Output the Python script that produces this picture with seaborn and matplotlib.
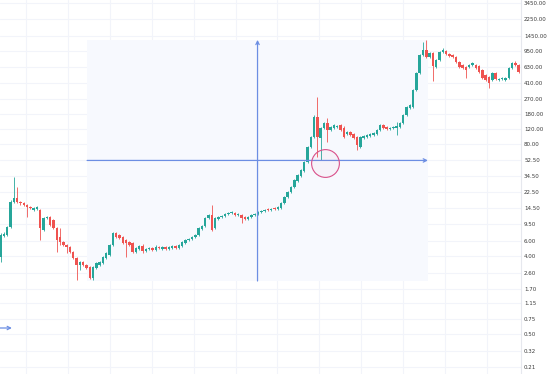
"""
plot.py

Gráfico de velas (escala logarítmica) con herramienta de rango de fechas/precio.
"""

import matplotlib
matplotlib.use("Agg")
import matplotlib.pyplot as plt
from matplotlib.ticker import NullLocator
import numpy as np
import pandas as pd
import seaborn as sns

# =========================
# Datos (velas)
# =========================

opens = [
    3.94, 6.91, 7.10, 8.79, 17.1, 19.0, 17.1, 16.6, 15.8, 15.0,
    13.8, 14.2, 13.8, 8.11, 11.15, 11.45, 10.6, 8.56, 6.73, 5.89,
    5.44, 5.15, 4.51, 3.84, 3.19, 3.45, 3.19, 3.02, 2.25, 2.94,
    3.19, 3.36, 3.84, 4.16, 5.44, 7.49, 7.10, 6.73, 6.21, 5.89,
    5.73, 4.51,
    4.89, 5.29, 4.63, 4.89, 5.02, 4.76, 5.15, 4.89, 5.15, 4.89,
    5.02, 5.29, 5.02, 5.29, 5.73, 6.21, 6.38, 6.73, 7.10, 8.33,
    9.03, 11.15, 12.1, 8.56, 10.9, 11.45, 11.8, 12.4, 12.75, 12.75,
    12.1, 12.1, 11.45, 10.9, 11.45, 12.1, 12.4, 13.1,
    13.45, 14.2, 13.8, 14.6, 14.2, 14.6, 16.6, 19.5, 22.4, 25.5,
    30.0, 34.3, 39.1, 49.7, 74.1, 96.9, 165, 94.3, 123, 140,
    117, 123, 126,
    133, 123, 105, 110.9, 105, 96.9, 74.1, 94.3, 96.9, 99.5,
    102, 105, 117, 133, 126, 120, 123, 123, 126, 140,
    174, 210, 215, 339, 533, 862, 985, 817, 909,
    626, 754, 934, 959, 885, 862, 817, 715, 660, 626,
    626, 660, 660, 643, 578, 506, 479, 443, 533, 443,
    455, 443, 467, 609, 696, 660,
]

closes = [
    7.10, 7.29, 8.79, 17.1, 19.0, 17.1, 16.6, 15.8, 15.0, 14.6,
    14.6, 15.0, 8.56, 11.15, 11.45, 9.27, 8.56, 6.21, 5.89, 5.44,
    5.15, 4.51, 3.84, 3.19, 3.45, 3.19, 2.94, 2.25, 3.02, 3.36,
    3.45, 3.94, 4.39, 5.44, 7.49, 6.73, 6.55, 5.73, 5.73, 5.44,
    4.51, 5.02,
    5.29, 4.63, 4.89, 5.02, 4.76, 5.15, 5.02, 5.15, 4.89, 5.15,
    5.29, 5.02, 5.44, 5.89, 6.21, 6.38, 6.73, 7.10, 8.56, 9.03,
    11.15, 12.1, 8.11, 11.15, 11.45, 11.8, 12.4, 12.75, 13.1, 12.1,
    12.4, 11.15, 10.9, 11.45, 12.1, 12.4, 13.1, 13.45,
    13.8, 13.8, 14.2, 14.2, 15.0, 16.6, 19.5, 22.4, 25.5, 30.8,
    35.2, 40.2, 49.7, 74.1, 96.9, 165, 96.9, 123, 140, 117,
    126, 133, 129.5,
    117, 96.9, 110.9, 102, 94.3, 78.2, 96.9, 99.5, 102, 105,
    108, 117, 133, 123, 120, 123, 126, 129.5, 140, 174,
    215, 227, 339, 533, 862, 985, 817, 909, 643,
    754, 934, 985, 885, 839, 817, 715, 626, 609, 578,
    660, 696, 609, 548, 467, 443, 409, 533, 455, 455,
    467, 467, 609, 696, 660, 548,
]

highs = [
    7.49, 7.69, 9.03, 18.0, 33.4, 25.5, 17.5, 17.1, 16.2, 15.4,
    15.0, 15.4, 14.2, 11.45, 11.8, 11.8, 10.9, 8.79, 8.56, 6.05,
    5.58, 5.29, 4.63, 3.94, 3.54, 3.54, 3.27, 3.10, 3.10, 3.45,
    3.54, 4.05, 4.51, 5.58, 7.69, 7.69, 7.29, 6.91, 6.38, 6.05,
    5.89, 5.15,
    5.44, 5.58, 5.02, 5.15, 5.15, 5.44, 5.29, 5.29, 5.29, 5.29,
    5.44, 5.44, 5.58, 6.05, 6.38, 6.55, 6.91, 7.29, 8.79, 9.27,
    11.45, 12.4, 15.8, 11.45, 11.8, 12.1, 12.75, 13.1, 13.45, 13.1,
    12.75, 12.4, 11.8, 11.8, 12.4, 12.75, 13.45, 13.8,
    14.2, 14.6, 14.6, 15.0, 15.4, 17.1, 20.05, 23.0, 26.2, 31.6,
    36.2, 41.3, 51.0, 76.1, 99.5, 174, 282, 126, 144, 160,
    129.5, 136.5, 133,
    136.5, 129.5, 113.8, 113.8, 108, 99.5, 99.5, 102, 105, 108,
    110.9, 120, 136.5, 136.5, 129.5, 126, 129.5, 144, 144, 179,
    221, 233, 348, 548, 885, 1219, 1286, 934, 934,
    775, 959, 1039, 985, 909, 885, 839, 735, 678, 643,
    678, 715, 678, 660, 593, 519, 492, 548, 548, 467,
    479, 479, 626, 715, 735, 678,
]

lows = [
    3.45, 6.73, 6.91, 8.56, 16.6, 16.6, 15.8, 15.4, 11.45, 14.2,
    13.45, 13.8, 6.21, 7.90, 10.9, 9.03, 8.33, 4.51, 5.44, 5.29,
    4.39, 4.39, 3.74, 2.14, 2.79, 3.10, 2.87, 2.19, 2.14, 2.87,
    3.10, 3.27, 3.74, 4.05, 5.29, 6.55, 6.38, 5.58, 3.94, 5.29,
    4.39, 4.39,
    4.76, 4.39, 4.51, 4.76, 4.63, 4.63, 4.89, 4.76, 4.76, 4.76,
    4.89, 4.89, 4.89, 5.15, 5.58, 6.05, 6.21, 6.55, 6.91, 8.11,
    8.79, 10.9, 7.90, 8.33, 10.6, 11.15, 11.45, 12.1, 12.4, 11.8,
    11.8, 9.78, 10.6, 10.6, 11.15, 11.8, 12.1, 12.75,
    13.1, 13.45, 13.45, 13.8, 13.8, 14.2, 16.2, 19.0, 21.8, 24.8,
    29.2, 33.4, 38.1, 48.4, 72.2, 94.3, 56.8, 52.4, 120, 84.8,
    113.8, 120, 123,
    113.8, 94.3, 102, 99.5, 91.8, 68.5, 72.2, 91.8, 94.3, 96.9,
    99.5, 102, 113.8, 120, 117, 117, 120, 102, 123, 136.5,
    169, 204, 210, 330, 519, 839, 796, 796, 431,
    609, 735, 909, 862, 817, 796, 696, 609, 593, 467,
    609, 643, 593, 533, 455, 431, 358, 431, 443, 431,
    443, 431, 455, 593, 643, 533,
]

price_ticks = [3450, 2250, 1450, 950, 630, 410, 270, 180, 120, 80, 52.5, 34.5,
               22.5, 14.5, 9.5, 6, 4, 2.6, 1.7, 1.15, 0.75, 0.5, 0.32, 0.21]

# posiciones de las líneas verticales de la cuadrícula (índice de vela)
time_grid = [7.7, 20.4, 33.1, 45.8, 58.5, 71.2, 83.9, 96.6, 109.3, 122.0, 134.7, 147.4]

# herramienta de rango (inicio/fin en índice de vela, precio mín/máx)
range_x = [26.2, 129.5]
range_y = [2.08, 1290]

# flecha suelta a la izquierda y círculo marcado
left_arrow_x = [-0.2, 3.4]
left_arrow_y = 0.594
circle_x = 98.2
circle_y = 48.0

# =========================
# Estilo
# =========================

sns.set_theme(style="white")
plt.rcParams["font.family"] = ["DejaVu Sans"]

GREEN = "#26a69a"
RED = "#ef5350"
BLUE = "#6c8ee3"
GRID = "#f2f4fa"

df = pd.DataFrame({"open": opens, "high": highs, "low": lows, "close": closes})
df["idx"] = np.arange(len(df))
df["up"] = df["close"] >= df["open"]
df["color"] = np.where(df["up"], GREEN, RED)
df["body_low"] = df[["open", "close"]].min(axis=1)
df["body_high"] = df[["open", "close"]].max(axis=1)

fig = plt.figure(figsize=(5.54, 3.74), dpi=100)
ax = fig.add_axes([0, 0, 521 / 554, 1])
ax.set_yscale("log")
ax.set_xlim(-0.2, 157.7)
ax.set_ylim(0.1742, 3737)

# cuadrícula
for t in price_ticks:
    ax.axhline(t, color=GRID, lw=0.8, zorder=0)
for g in time_grid:
    ax.axvline(g, color=GRID, lw=0.8, zorder=0)

# zona del rango
ax.fill_between(range_x, range_y[0], range_y[1], color="#f7f9fe", lw=0, zorder=0.5)

# velas
ax.vlines(df["idx"], df["low"], df["high"], colors=df["color"], lw=0.6, zorder=2)
ax.bar(df["idx"], df["body_high"] - df["body_low"], bottom=df["body_low"],
       width=0.75, color=df["color"], linewidth=0, zorder=2.5)

# líneas de la herramienta de rango
mid_x = np.mean(range_x)
mid_y = np.sqrt(range_y[0] * range_y[1])
arrow = dict(arrowstyle="->", color=BLUE, lw=0.9, mutation_scale=6,
             shrinkA=0, shrinkB=0)
ax.annotate("", xy=(mid_x, range_y[1]), xytext=(mid_x, range_y[0]),
            arrowprops=arrow, zorder=3)
ax.annotate("", xy=(range_x[1], mid_y), xytext=(range_x[0], mid_y),
            arrowprops=arrow, zorder=3)
ax.annotate("", xy=(left_arrow_x[1], left_arrow_y), xytext=(left_arrow_x[0], left_arrow_y),
            arrowprops=arrow, zorder=3)

# círculo marcado
ax.plot([circle_x], [circle_y], marker="o", markersize=20,
        markerfacecolor=(0.93, 0.35, 0.55, 0.04), markeredgecolor="#d9508a",
        markeredgewidth=0.8, zorder=4)

# ejes
ax.yaxis.tick_right()
ax.set_yticks(price_ticks)
ax.set_yticklabels([f"{t:.2f}" for t in price_ticks])
ax.yaxis.set_minor_locator(NullLocator())
ax.set_xticks([])
ax.tick_params(axis="y", length=0, pad=2.2, labelsize=4.0, labelcolor="#3a3a3a")
for side in ["top", "left", "bottom"]:
    ax.spines[side].set_visible(False)
ax.spines["right"].set_color("#e6e8ee")
ax.spines["right"].set_linewidth(0.8)
ax.grid(False)

fig.savefig("out.png", dpi=100)
plt.close(fig)
